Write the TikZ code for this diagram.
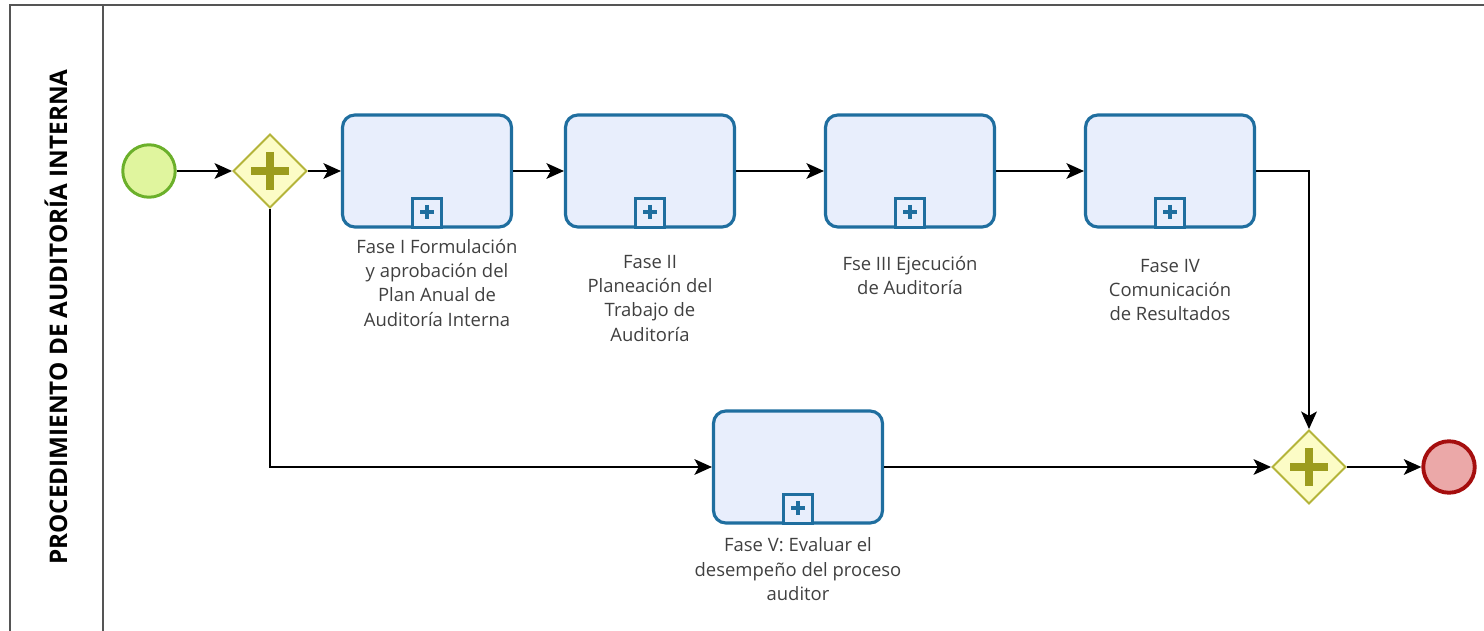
\documentclass[tikz,border=0pt]{standalone}
\usepackage{fontspec}
\setmainfont{Open Sans}
\usetikzlibrary{arrows.meta,positioning,shapes.geometric,calc}
\definecolor{taskblue}{HTML}{1F6E9F}
\definecolor{taskfill}{HTML}{E8EEFC}
\definecolor{gwline}{HTML}{B4B43A}
\definecolor{gwfill}{HTML}{FCFCC6}
\definecolor{gwplus}{HTML}{9C9C1E}
\definecolor{startline}{HTML}{6BB02A}
\definecolor{startfill}{HTML}{E0F59E}
\definecolor{endline}{HTML}{A50E0E}
\definecolor{endfill}{HTML}{EBA8A8}
\definecolor{lanegray}{HTML}{555555}

\begin{document}
\begin{tikzpicture}[x=0.02cm,y=-0.02cm,
    task/.style={draw=taskblue,fill=taskfill,line width=1.8pt,rounded corners=7pt,minimum width=3.38cm,minimum height=2.24cm},
    gate/.style={diamond,draw=gwline,fill=gwfill,line width=1.1pt,minimum width=1.48cm,minimum height=1.48cm,inner sep=0pt},
    flow/.style={line width=0.8pt,-{Stealth[length=10pt,width=9pt,inset=2.5pt]}},
    lbl/.style={align=center,font=\fontsize{10.5}{13.9}\selectfont,text=black!75,inner sep=0pt}]
  \useasboundingbox (0,0) rectangle (1484,631);
  % pool and lane
  \draw[lanegray,line width=0.8pt] (10,650) -- (10,5) -- (1500,5);
  \draw[lanegray,line width=0.8pt] (103,5) -- (103,650);
  \node[rotate=90,font=\bfseries\fontsize{13.8}{16}\selectfont] (title) at (56,317) {PROCEDIMIENTO DE AUDITORÍA INTERNA};
  % events and gateways
  \node[circle,draw=startline,fill=startfill,line width=1.7pt,minimum size=1.05cm,inner sep=0pt] (s) at (149,171) {};
  \node[gate] (g1) at (270,171) {};
  \node[gate] (g2) at (1309,467) {};
  \node[circle,draw=endline,fill=endfill,line width=2.2pt,minimum size=1.03cm,inner sep=0pt] (e) at (1449,467) {};
  \foreach \g in {g1,g2}
    \draw[gwplus,line width=4.6pt] ($(\g)+(-19,0)$) -- ($(\g)+(19,0)$) ($(\g)+(0,-19)$) -- ($(\g)+(0,19)$);
  % subprocesses
  \node[task] (f1) at (427,171) {};
  \node[task] (f2) at (650,171) {};
  \node[task] (f3) at (910,171) {};
  \node[task] (f4) at (1170,171) {};
  \node[task] (f5) at (798,467) {};
  \foreach \t in {f1,f2,f3,f4,f5}{
    \node[draw=taskblue,line width=1.3pt,fill=taskfill,minimum size=0.58cm,inner sep=0pt,anchor=south] (\t m) at (\t.south) {};
    \draw[taskblue,line width=2.6pt] ($(\t m)+(-7,-1)$) -- ($(\t m)+(7,-1)$) ($(\t m)+(0,-8)$) -- ($(\t m)+(0,6)$);
  }
  \node[lbl,below=0.2cm of f1,xshift=0.2cm] (l1) {Fase I Formulación\\y aprobación del\\Plan Anual de\\Auditoría Interna};
  \node[lbl,below=0.52cm of f2] (l2) {Fase II\\Planeación del\\Trabajo de\\Auditoría};
  \node[lbl,below=0.54cm of f3] (l3) {Fse III Ejecución\\de Auditoría};
  \node[lbl,below=0.6cm of f4] (l4) {Fase IV\\Comunicación\\de Resultados};
  \node[lbl,below=0.26cm of f5] (l5) {Fase V: Evaluar el\\desempeño del proceso\\auditor};
  % sequence flows
  \draw[flow] (s) -- (g1);
  \draw[flow] (g1) -- (f1);
  \draw[flow] (f1) -- (f2);
  \draw[flow] (f2) -- (f3);
  \draw[flow] (f3) -- (f4);
  \draw[flow] (f4.east) -| (g2.north);
  \draw[flow] (g1.south) |- (f5.west);
  \draw[flow] (f5) -- (g2);
  \draw[flow] (g2) -- (e);
\end{tikzpicture}
\end{document}
